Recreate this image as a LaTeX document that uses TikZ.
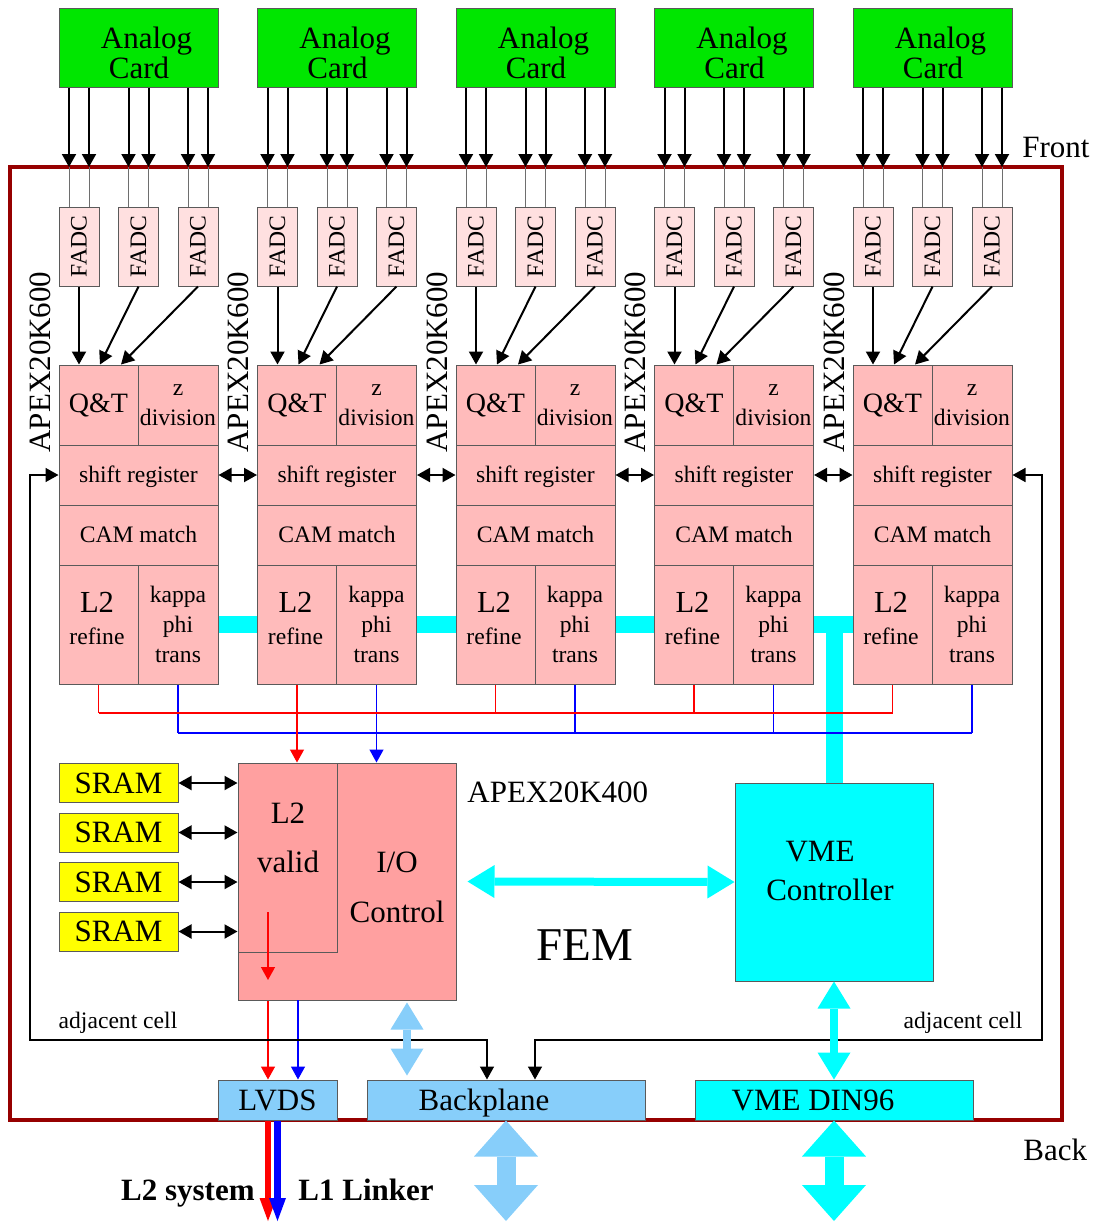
\documentclass[tikz,border=0pt]{standalone}
\usepackage{fontspec}
\setmainfont{Liberation Serif}
\usetikzlibrary{arrows.meta}

\definecolor{cardgreen}{RGB}{0,230,0}
\definecolor{fadcpink}{RGB}{255,224,224}
\definecolor{cellpink}{RGB}{255,187,187}
\definecolor{apexpink}{RGB}{255,160,160}
\definecolor{plugblue}{RGB}{135,206,250}
\definecolor{vmecyan}{RGB}{0,255,255}
\definecolor{sramyellow}{RGB}{255,255,0}
\definecolor{framered}{RGB}{150,0,0}
\definecolor{boxgray}{RGB}{90,90,90}
\definecolor{wiregray}{RGB}{110,110,110}

\tikzset{
  box/.style={draw=boxgray,line width=0.5pt,inner sep=0pt,align=center},
  bigtext/.style={font=\fontsize{15.5}{19}\selectfont},
  smalltext/.style={font=\fontsize{11.8}{15}\selectfont},
  card/.style={box,fill=cardgreen,minimum width=79.5pt,minimum height=39.5pt},
  fadc/.style={box,smalltext,fill=fadcpink,minimum width=20pt,minimum height=39.5pt},
  cell/.style={box,smalltext,fill=cellpink,text height=8.5pt,text depth=1pt},
  plug/.style={box,bigtext,minimum height=20pt,text height=10.5pt,text depth=0.5pt},
  bus/.style={vmecyan,line width=8.5pt},
  redline/.style={red,line width=0.7pt},
  blueline/.style={blue,line width=0.7pt},
  linkarrow/.style={#1,line width=4pt,{Triangle[length=13.5pt,width=16.5pt,line width=0pt]}-{Triangle[length=13.5pt,width=16.5pt,line width=0pt]}},
  fatarrow/.style={#1,line width=9.5pt,{Triangle[length=18pt,width=32pt,line width=0pt]}-{Triangle[length=18pt,width=32pt,line width=0pt]}}
}

\begin{document}
\begin{tikzpicture}[x=0.5pt,y=-0.5pt,>={Triangle[length=6.5pt,width=7pt]}]
  \useasboundingbox (0,0) rectangle (1095,1222);
  \coordinate (front) at (0,167);
  \coordinate (redbus) at (0,713);
  \coordinate (bluebus) at (0,733);
  \coordinate (bottom) at (0,1221);
  \coordinate (adjL) at (30,1040);
  \coordinate (adjR) at (1042,1040);

  \draw[framered,line width=2pt] (10,167) rectangle (1062,1120);
  \node[bigtext,anchor=west,inner sep=0pt] (fronttxt) at (1022,147) {Front};
  \node[bigtext,anchor=west,inner sep=0pt] (backtxt) at (1023,1150) {Back};

  \foreach \i in {0,...,4}{
    \begin{scope}[xshift=\i*99.25pt]
      \node[card] (card\i) at (138.5,47.5) {};
      \node[align=center,font=\fontsize{15.5}{15}\selectfont] (cardtxt\i) at (139,53) {\hspace*{7.5pt}Analog\\Card};
      \node[fadc] (fadcA\i) at (79,246.5) {\rotatebox{90}{FADC}};
      \node[fadc] (fadcB\i) at (138.5,246.5) {\rotatebox{90}{FADC}};
      \node[fadc] (fadcC\i) at (198,246.5) {\rotatebox{90}{FADC}};
      \node[cell,minimum width=39.5pt,minimum height=40pt,font=\fontsize{14}{15}\selectfont] (qt\i) at (98.5,405) {Q\&T};
      \node[box,smalltext,fill=cellpink,minimum width=40pt,minimum height=40pt] (zdiv\i) at (178,405) {z\\division};
      \node[cell,minimum width=79.5pt,minimum height=30pt] (shift\i) at (138.5,475) {shift register};
      \node[cell,minimum width=79.5pt,minimum height=30pt] (cam\i) at (138.5,535) {CAM match};
      \node[box,fill=cellpink,minimum width=39.5pt,minimum height=59.5pt] (l2r\i) at (98.5,624.5) {};
      \node[align=center,smalltext] (l2rtxt\i) at (97,618) {{\fontsize{15.3}{15}\selectfont L2}\\[1pt]refine};
      \node[box,smalltext,fill=cellpink,minimum width=40pt,minimum height=59.5pt] (kappa\i) at (178,624.5) {kappa\\phi\\trans};
      \node[bigtext,rotate=90] (chip\i) at (40,362) {APEX20K600};
      % analog lines through the front panel
      \foreach \f in {A,B,C}
        \foreach \s in {-5pt,5pt}{
          \draw[wiregray,line width=0.5pt] ([xshift=\s]fadc\f\i.north |- front) -- ([xshift=\s]fadc\f\i.north);
          \draw[->,line width=1pt] ([xshift=\s]fadc\f\i.north |- card\i.south) -- ([xshift=\s]fadc\f\i.north |- front);
        }
      \draw[->,line width=1pt] (fadcA\i.south) -- (fadcA\i.south |- qt\i.north);
      \draw[->,line width=1pt] (fadcB\i.south) -- ([xshift=0.75pt]qt\i.north);
      \draw[->,line width=1pt] (fadcC\i.south) -- ([xshift=11.25pt]qt\i.north);
      \draw[redline] (l2r\i.south) -- (l2r\i.south |- redbus);
      \draw[blueline] (kappa\i.south) -- (kappa\i.south |- bluebus);
    \end{scope}
  }

  \foreach \i/\j in {0/1,1/2,2/3,3/4}{
    \draw[<->,line width=1pt] (shift\i.east) -- (shift\j.west);
    \draw[bus] (kappa\i.east) -- (l2r\j.west);
  }

  \node[box,fill=apexpink,minimum width=109pt,minimum height=118.5pt] (apex) at (347,881.5) {};
  \node[box,fill=apexpink,minimum width=49.5pt,minimum height=94.5pt,anchor=north west] (valid) at (apex.north west) {};
  \node[align=center,font=\fontsize{15.5}{24.5}\selectfont] (validtxt) at (288,838) {L2\\valid};
  \node[align=center,font=\fontsize{15.5}{25}\selectfont] (iotxt) at (397,887) {I/O\\Control};
  \node[bigtext,anchor=west,inner sep=0pt] (apexlbl) at (467,792) {APEX20K400};

  \foreach \k/\y in {0/783,1/832.5,2/882,3/931.5}{
    \node[box,bigtext,fill=sramyellow,minimum width=59.5pt,minimum height=19.5pt] (sram\k) at (118.5,\y) {SRAM};
    \draw[<->,line width=1pt] (sram\k.east) -- (sram\k.east -| apex.west);
  }

  \node[box,fill=vmecyan,minimum width=99pt,minimum height=99pt] (vme) at (834,882) {};
  \node[align=center,font=\fontsize{15.5}{19.5}\selectfont] (vmetxt) at (830,871) {VME\hspace*{10pt}\\Controller};
  \node[font=\fontsize{23.5}{28}\selectfont] (fem) at (585,945) {FEM};

  \draw[bus] (kappa3.east -| vme.north) -- (vme.north);
  \draw[redline] (l2r0.south |- redbus) -- (l2r4.south |- redbus);
  \draw[blueline] (kappa0.south |- bluebus) -- (kappa4.south |- bluebus);
  \draw[redline,->] (l2r1.south |- redbus) -- (l2r1.south |- apex.north);
  \draw[blueline,->] (kappa1.south |- bluebus) -- (kappa1.south |- apex.north);

  \node[plug,fill=plugblue,minimum width=59.5pt] (lvds) at (277.5,1100) {LVDS};
  \node[plug,fill=plugblue,minimum width=139pt] (bp) at (506,1100) {Backplane\hspace*{22pt}};
  \node[plug,fill=vmecyan,minimum width=139pt] (din) at (834,1100) {VME DIN96\hspace*{21pt}};

  \coordinate (l2out) at (268,912);
  \coordinate (l1out) at (298,1000);
  \draw[redline,->] (l2out) -- ++(0,68);
  \draw[redline,->] (l2out |- apex.south) -- (l2out |- lvds.north);
  \draw[blueline,->] (l1out) -- (l1out |- lvds.north);
  \draw[red,line width=3.3pt,-{Triangle[length=11.5pt,width=8.5pt,line width=0pt]}] (l2out |- lvds.south) -- (l2out |- bottom);
  \draw[blue,line width=3.3pt,-{Triangle[length=11.5pt,width=8.5pt,line width=0pt]}] (lvds.south) -- (lvds.south |- bottom);
  \node[anchor=base east,inner sep=0pt,font=\fontsize{15.5}{19}\selectfont\bfseries] (l2sys) at (255,1200) {L2 system};
  \node[anchor=base west,inner sep=0pt,font=\fontsize{15.5}{19}\selectfont\bfseries] (l1link) at (298,1200) {L1 Linker};

  \draw[<->,line width=0.8pt] (shift0.west) -| (adjL) -| ([xshift=-9.5pt]bp.north);
  \draw[<->,line width=0.8pt] (shift4.east) -| (adjR) -| ([xshift=14.5pt]bp.north);
  \node[smalltext] (adjtxtL) at (118,1023) {adjacent cell};
  \node[smalltext] (adjtxtR) at (963,1023) {adjacent cell};

  \draw[linkarrow=vmecyan] ([xshift=5.5pt]apex.east) -- (vme.west);
  \draw[linkarrow=plugblue] ([xshift=30pt,yshift=-1pt]apex.south) -- ([xshift=30pt,yshift=2pt]apex.south |- bp.north);
  \draw[linkarrow=vmecyan] (vme.south) -- (din.north);
  \draw[fatarrow=plugblue] (bp.south) -- (bp.south |- bottom);
  \draw[fatarrow=vmecyan] (din.south) -- (din.south |- bottom);
\end{tikzpicture}
\end{document}
